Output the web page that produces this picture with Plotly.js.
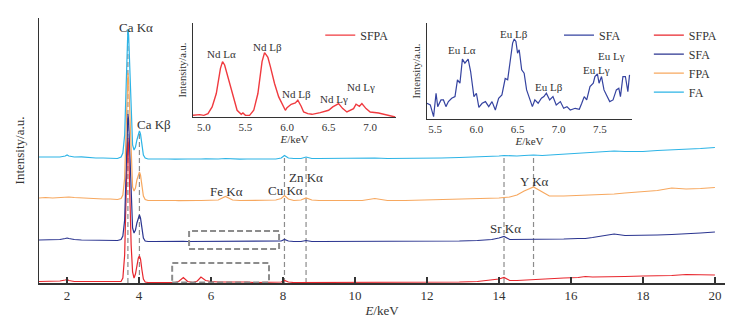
<!DOCTYPE html>
<html>
<head>
<meta charset="utf-8">
<script src="https://cdn.plot.ly/plotly-3.0.1.min.js"></script>
<style>html,body{margin:0;padding:0;background:#fff;}#chart{width:748px;height:323px;}</style>
</head>
<body>
<div id="chart"></div>
<script>
// ---- main spectra (energy in keV, intensity in a.u. relative to each trace's own baseline)
const energy = [
 1.22,1.4,1.6,1.8,1.95,2.0,2.05,2.2,2.4,2.6,
 2.8,3.0,3.2,3.4,3.5,3.55,3.6,3.64,3.67,3.69,
 3.71,3.74,3.78,3.82,3.86,3.9,3.94,3.98,4.01,4.04,
 4.08,4.12,4.17,4.25,4.4,4.6,4.8,5.0,5.1,5.23,
 5.35,5.5,5.62,5.72,5.85,6.0,6.2,6.4,6.6,6.8,
 7.0,7.2,7.4,7.6,7.8,7.95,8.04,8.15,8.3,8.5,
 8.64,8.8,9.0,9.4,9.8,10.2,10.55,10.9,11.4,11.9,
 12.4,12.9,13.4,13.8,14.0,14.14,14.3,14.5,14.7,14.96,
 15.2,15.4,15.8,16.2,16.4,16.6,17.0,17.2,17.5,18.0,
 18.4,18.8,19.2,19.6,20.0];
const sfpa = [
 0.5,0.5,0.5,1,2,2.5,1.5,0.5,0.5,0.5,
 0,0,0,0,0.5,4,27,87,132,144,
 134,92,37,10,4,8,17,24,26,23,
 12,3,0,-0.5,-0.5,-0.5,-0.5,-0.5,0.5,4.5,
 0.5,-0.5,1,5,1.5,0.5,0,0,0.5,0.5,
 0,-0.5,-0.5,-0.5,-0.5,0,1.5,0,-0.5,-0.5,
 0,-0.5,-0.5,-0.5,-0.5,-0.5,-0.5,-0.5,-0.5,-0.5,
 -0.5,0,0.5,2,3,4.5,1.5,1.5,2,2.5,
 2.5,3,4,4.5,5.5,5,5,5,5.5,6,
 6,6.5,7.5,7,7];
const sfa = [
 0,0,0.5,0.5,1.5,2,1.5,0.5,0,0,
 0,-0.5,-0.5,-0.5,0.5,4,20,72,113,126,
 120,85,37,12,7,10,17,23,25,22,
 12,2,-1,-1.5,-1.5,-1.3,-1.5,-1.5,-1.5,-1.3,
 -1.5,-1.5,-1.3,-1.5,-1.3,-1.5,-1.3,-1,-1.5,-1.3,
 -1.5,-1.5,-1.3,-1.5,-1.5,-1,0.5,-1,-1.5,-1.5,
 -0.5,-1.5,-1.5,-1.5,-1.3,-1.5,-1.3,-1.5,-1.3,-1,
 -1,-1,-0.5,0.5,2,3.5,0.5,0.5,0.5,0.5,
 0.5,1,1,1.5,1.5,2.5,5,6,4.5,4.5,
 5,5.5,6,7,8];
const fpa = [
 0,0.5,0,0.5,1,1.5,1,0.5,0,-0.5,
 -1,-1,-1,-1.5,-0.5,3,20,73,113,125,
 118,83,36,11,7,10,18,24,26,23,
 12,2,-1.5,-2.5,-2.5,-2.3,-2.5,-2.5,-2.7,-2.5,
 -2.5,-2.3,-2.5,-2.5,-2.5,-2.5,-2,1.5,-2,-2.5,
 -2.5,-2.3,-2.5,-2.5,-2,-0.5,2.5,-1,-2.5,-2,
 0,-2,-2.5,-2.5,-2.3,-2.5,-0.5,-2.5,-2.5,-2,
 -2,-1.5,-1,-0.5,0,0.5,1,3,7,11,
 6,2,2,2.5,3,3.5,3.5,4,5,6,
 7.5,10,9,9.5,10.5];
const fa = [
 0,0,0.3,0,1,2,1,0,0.2,-0.5,
 -1,-1,-1,-1.5,0,4,22,72,115,128,
 122,87,37,12,7,10,17,24,26,23,
 12,2,-1,-2,-2,-1.8,-2,-2.2,-2,-1.8,
 -2,-2,-2.2,-2,-1.8,-2,-2,-1.5,-2,-2.2,
 -2,-1.8,-2,-2,-2,-1,1.5,-1,-1.5,-1.5,
 0,-1.5,-1.5,-1.3,-1.5,-1.5,-1,-1.5,-1.5,-1,
 -1,-0.5,0,0.5,1,1.5,1,1,1.5,2,
 1.5,2,2.5,3.5,4,5,5.5,6,5.5,5.5,
 6.5,7,8,8.5,9.5];
const seriesNames = ['SFPA','SFA','FPA','FA'];

// ---- inset 1: Nd L lines in SFPA
const ndEnergy = [4.87,4.95,5.0,5.05,5.1,5.15,5.2,5.225,5.25,5.3,
 5.35,5.4,5.45,5.47,5.5,5.55,5.6,5.65,5.7,5.73,
 5.75,5.77,5.8,5.85,5.9,5.95,5.98,6.0,6.05,6.1,
 6.13,6.17,6.2,6.25,6.3,6.4,6.5,6.55,6.62,6.67,
 6.72,6.8,6.83,6.87,6.9,6.95,7.0,7.1,7.2,7.3];
const ndIntensity = [5,7,5,10,30,70,145,165,155,110,
 60,20,8,12,5,5,20,70,165,192,
 185,178,150,100,60,32,20,28,38,42,
 50,32,15,10,8,13,20,30,40,25,
 15,25,38,32,40,25,15,12,5,0];

// ---- inset 2: Eu L lines in SFA
const euEnergy = [5.40,5.44,5.48,5.51,5.53,5.57,5.60,5.63,5.66,5.70,
 5.74,5.77,5.80,5.83,5.86,5.90,5.93,5.97,6.00,6.03,
 6.07,6.11,6.15,6.19,6.23,6.27,6.31,6.35,6.38,6.41,
 6.44,6.46,6.48,6.50,6.52,6.55,6.58,6.61,6.65,6.68,
 6.71,6.75,6.79,6.82,6.85,6.89,6.93,6.97,7.02,7.06,
 7.10,7.14,7.20,7.25,7.28,7.31,7.34,7.38,7.42,7.44,
 7.47,7.49,7.52,7.55,7.58,7.62,7.66,7.70,7.73,7.75,
 7.78,7.81,7.84,7.86];
const euIntensity = [47,42,7,77,37,57,57,37,52,62,
 67,117,107,179,167,179,142,67,77,35,
 47,52,37,52,27,62,72,121,117,167,
 227,239,232,197,207,147,137,87,57,37,
 57,47,62,67,77,57,67,42,52,32,
 37,27,32,29,47,67,57,97,107,127,
 135,107,127,87,72,52,57,87,92,67,
 127,127,82,132];

// ---- peak labels and marker lines
const mainPeakLabels = ['Ca Kα','Ca Kβ','Fe Kα','Cu Kα','Zn Kα','Sr Kα','Y Kα'];
const mainPeakE = [3.92,4.42,6.42,8.08,8.64,14.17,15.0];
const lineEnergies = [3.69,4.01,8.04,8.64,14.14,14.96];
const ndLabels = ['Nd Lα','Nd Lβ','Nd Lβ','Nd Lγ','Nd Lγ'];
const ndLabelE = [5.21,5.76,6.12,6.57,6.89];
const euLabels = ['Eu Lα','Eu Lβ','Eu Lβ','Eu Lγ','Eu Lγ'];
const euLabelE = [5.82,6.46,6.88,7.46,7.64];
const xTicks = [2,4,6,8,10,12,14,16,18,20];
const ndTicks = [5.0,5.5,6.0,6.5,7.0];
const euTicks = [5.5,6.0,6.5,7.0,7.5];

// ---- styling
const FONT = '"Liberation Serif", "Times New Roman", serif';
const TXT = '#333333';
const colors = {SFPA:'#e8262d', SFA:'#2b3590', FPA:'#f7a85f', FA:'#2db4e6'};
const offsets = {SFPA:1, SFA:43, FPA:85, FA:126};
const dataBy = {SFPA:sfpa, SFA:sfa, FPA:fpa, FA:fa};

const traces = seriesNames.map(n => ({
  x: energy, y: dataBy[n].map(v => v + offsets[n]),
  type:'scatter', mode:'lines', name:n,
  line:{color:colors[n], width:1.2}, legend:'legend'
}));
traces.push({x:ndEnergy, y:ndIntensity, type:'scatter', mode:'lines', name:'SFPA',
  xaxis:'x2', yaxis:'y2', line:{color:'#f03a3f', width:1.4}, legend:'legend2'});
traces.push({x:euEnergy, y:euIntensity, type:'scatter', mode:'lines', name:'SFA',
  xaxis:'x3', yaxis:'y3', line:{color:'#3543a0', width:1.2}, legend:'legend3'});

// label heights (main axis units), inset label heights
const mainLabelY = [256,159,92,93,106,55,102];
const ndLabelY = [188,210,70,55,90];
const euLabelY = [205,254,95,147,187];
const lineTop = [253,150,125,125,126,127];
const lineBottom = [0,0,0,0,0,8];

const annotations = [];
mainPeakLabels.forEach((t,i)=>annotations.push({x:mainPeakE[i], y:mainLabelY[i], xref:'x', yref:'y', text:t, showarrow:false, font:{family:FONT,size:13,color:TXT}}));
ndLabels.forEach((t,i)=>annotations.push({x:ndLabelE[i], y:ndLabelY[i], xref:'x2', yref:'y2', text:t, showarrow:false, font:{family:FONT,size:11,color:TXT}}));
euLabels.forEach((t,i)=>annotations.push({x:euLabelE[i], y:euLabelY[i], xref:'x3', yref:'y3', text:t, showarrow:false, font:{family:FONT,size:11,color:TXT}}));

const shapes = lineEnergies.map((e,i)=>({type:'line', xref:'x', yref:'y', x0:e, x1:e, y0:lineBottom[i], y1:lineTop[i],
  line:{color:'#8c8c8c', width:1.2, dash:'5px,3px'}, layer:'below'}));
shapes.push({type:'rect', xref:'x', yref:'y', x0:5.39, x1:7.89, y0:34, y1:52, line:{color:'#8c8c8c', width:2, dash:'6px,3px'}});
shapes.push({type:'rect', xref:'x', yref:'y', x0:4.92, x1:7.61, y0:0.5, y1:20, line:{color:'#8c8c8c', width:2, dash:'6px,3px'}});

const insetX = (dom, rng, ticks) => ({domain:dom, range:rng, showline:true, linecolor:'#333', linewidth:1,
  showgrid:false, zeroline:false, ticks:'', tickvals:ticks, ticktext:ticks.map(v=>v.toFixed(1)),
  tickfont:{family:FONT,size:11,color:TXT}, title:{text:'<i>E</i>/keV', font:{family:FONT,size:11,color:TXT}, standoff:0}});
const insetY = (dom, rng) => ({domain:dom, range:rng, showline:true, linecolor:'#333', linewidth:1,
  showgrid:false, zeroline:false, ticks:'', showticklabels:false,
  title:{text:'Intensity/a.u.', font:{family:FONT,size:10.5,color:TXT}, standoff:3}});

const layout = {
  width:748, height:323,
  margin:{l:39, r:23, t:18, b:40},
  paper_bgcolor:'#fff', plot_bgcolor:'#fff',
  font:{family:FONT, color:TXT},
  showlegend:true,
  xaxis:{range:[1.22,20.28], showline:true, linecolor:'#333', linewidth:1.5, showgrid:false, zeroline:false,
    ticks:'inside', ticklen:6, tickwidth:1.2, tickcolor:'#333', tickvals:xTicks,
    tickfont:{family:FONT,size:13,color:TXT}, title:{text:'<i>E</i>/keV', font:{family:FONT,size:13,color:TXT}, standoff:4}},
  yaxis:{range:[0,265], showline:true, linecolor:'#333', linewidth:1.5, showgrid:false, zeroline:false,
    ticks:'', showticklabels:false, title:{text:'Intensity/a.u.', font:{family:FONT,size:13,color:TXT}, standoff:10}},
  xaxis2:Object.assign(insetX([0.2245,0.5204],[4.87,7.31],ndTicks),{anchor:'y2'}),
  yaxis2:Object.assign(insetY([0.6264,0.981],[0,280]),{anchor:'x2'}),
  xaxis3:Object.assign(insetX([0.5656,0.8644],[5.40,7.89],euTicks),{anchor:'y3'}),
  yaxis3:Object.assign(insetY([0.6189,0.981],[0,287]),{anchor:'x3'}),
  legend:{x:0.889, y:0.99, xanchor:'left', yanchor:'top', bgcolor:'rgba(0,0,0,0)', itemwidth:30,
    font:{family:FONT,size:12,color:TXT}, tracegroupgap:0},
  legend2:{x:0.41, y:0.99, xanchor:'left', yanchor:'top', bgcolor:'rgba(0,0,0,0)', itemwidth:30,
    font:{family:FONT,size:12,color:TXT}},
  legend3:{x:0.758, y:0.99, xanchor:'left', yanchor:'top', bgcolor:'rgba(0,0,0,0)', itemwidth:30,
    font:{family:FONT,size:12,color:TXT}},
  annotations:annotations,
  shapes:shapes
};
Plotly.newPlot('chart', traces, layout, {staticPlot:true, displayModeBar:false});
</script>
</body>
</html>
